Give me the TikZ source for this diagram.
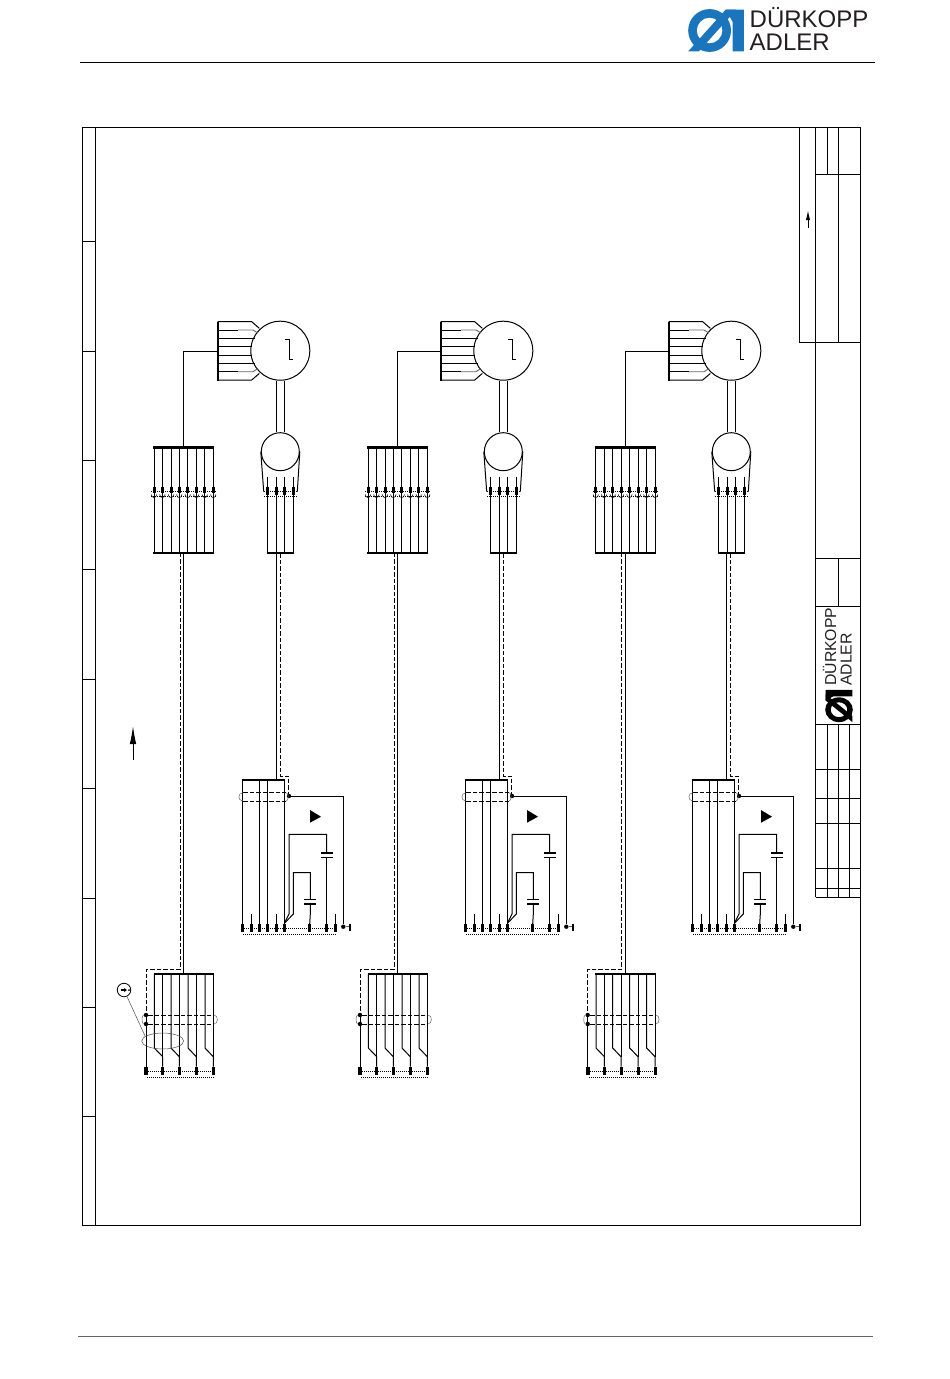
\documentclass[tikz,border=0pt]{standalone}
\usepackage{fontspec}
\setmainfont{Liberation Sans}
\usetikzlibrary{shapes.geometric,arrows.meta}
\definecolor{dablue}{HTML}{1B75BC}
\definecolor{dadark}{HTML}{231F20}
\tikzset{
 frameline/.style={line width=1pt},
 wire/.style={line width=1pt},
 busbar/.style={line width=2.1pt},
 pinbar/.style={line width=3pt},
 shield/.style={line width=1pt,dash pattern=on 4.5pt off 2pt},
 screen/.style={line width=.9pt,dash pattern=on 1pt off 1pt},
 capcurve/.style={line width=.5pt,black!60},
 junction/.style={circle,fill,inner sep=0pt,minimum size=4.4pt},
 logotext/.style={inner sep=0pt,text=dadark},
}
\newcommand{\dacrest}[1]{
\fill[#1,even odd rule] (-6,0) circle (20) (-6,0) circle (12);
\fill[#1] (9,-19.5)--(19,-19.5)--(-16,19.5)--(-26,19.5)--cycle;
\fill[#1] (9,-19.5)--(26,-19.5)--(26,19.5)--(15.6,19.5)--(15.6,-8)--cycle;
}
\begin{document}
\begin{tikzpicture}[x=1pt,y=-1pt]
\useasboundingbox (0,0) rectangle (950,1379);
% header and footer
\begin{scope}[shift={(716,30.5)},scale=1.07]
\dacrest{dablue}
\end{scope}
\node[logotext,anchor=base west,font=\fontsize{24}{24}\selectfont] (headone) at (749.5,27.5) {DÜRKOPP};
\node[logotext,anchor=base west,font=\fontsize{24}{24}\selectfont] (headtwo) at (749.5,50.5) {ADLER};
\draw[wire] (80,62)--(875,62);
\draw[line width=.8pt,black!60] (78,1336.5)--(873,1336.5);
% frame
\draw[frameline] (82.5,127) rectangle (860.5,1225);
\draw[frameline] (95,127)--(95,1225);
\foreach \y in {241,351,460,569,679,788,898,1007,1116}
 \draw[frameline] (82.5,\y)--(95,\y);
% table top right
\draw[frameline] (799.5,127)--(799.5,342.5)--(860.5,342.5);
\draw[frameline] (815.5,127)--(815.5,897);
\draw[frameline] (827.5,127)--(827.5,174);
\draw[frameline] (838.5,127)--(838.5,342.5);
\draw[frameline] (815.5,174)--(860.5,174);
\draw[wire,-{Latex[length=10pt,width=4.2pt]}] (808,228)--(808,210);
% title block
\draw[frameline] (815.5,558.5)--(860.5,558.5);
\draw[frameline] (838.5,558.5)--(838.5,606);
\draw[frameline] (815.5,606)--(860.5,606);
\foreach \y in {724,769.5,798.5,823.5,868.5,888.5,897}
 \draw[frameline] (815.5,\y)--(860.5,\y);
\foreach \x in {827.5,838.5,849.5}
 \draw[frameline] (\x,724)--(\x,897);
\begin{scope}[shift={(839,706)},rotate=90,xscale=.62,yscale=.69]
\dacrest{black}
\end{scope}
\node[logotext,rotate=90,anchor=base west,font=\fontsize{15.8}{15.8}\selectfont] (titleone) at (836,686) {DÜRKOPP};
\node[logotext,rotate=90,anchor=base west,font=\fontsize{15.8}{15.8}\selectfont] (titletwo) at (851.5,686) {ADLER};
% arrow left
\draw[wire,-{Latex[length=18pt,width=6.5pt]}] (133,760)--(133,726);
% motors
\foreach \dx in {0,223,451}{
\begin{scope}[shift={(\dx,0)}]
\node[circle,draw,line width=1pt,minimum size=59pt,inner sep=0pt] (motor) at (280.3,350.7) {};
\node[circle,draw,line width=1pt,minimum size=38pt,inner sep=0pt] (plug) at (280.3,451.7) {};
\draw[wire] (285,339.3)--(289.3,339.3)--(289.3,359.3)--(293.3,359.3);
\draw[wire] ([xshift=-4pt]motor.south)--([xshift=-4pt]plug.north);
\draw[wire] ([xshift=4pt]motor.south)--([xshift=4pt]plug.north);
\draw[wire] (plug.west)--(263.7,491.7);
\draw[wire] (plug.east)--(297.3,491.7);
\foreach \x in {267.7,276.3,284.7,293.3}{
 \draw[wire] (\x,476.7)--(\x,553.3);
 \draw[pinbar] (\x,486.7)--(\x,495);
}
\draw[screen] (264,491.7)--(297,491.7);
\draw[screen] (264,496)--(297,496);
\draw[busbar] (267,553.3)--(294,553.3);
% motor connector
\draw[busbar] (217.7,321.5)--(217.7,380.5);
\draw[wire] (217.7,321.7)--(251.7,321.7)--(259.3,328.3);
\draw[wire] (217.7,330)--(238,330);
\draw[capcurve,line width=.9pt] (238,330)--(253,330)--(258,333);
\draw[wire] (217.7,338.3)--(255,338.3);
\draw[wire] (217.7,346.7)--(251.5,346.7);
\draw[wire] (217.7,355)--(251.5,355);
\draw[wire] (217.7,363.3)--(255,363.3);
\draw[wire] (217.7,371.7)--(238,371.7);
\draw[capcurve,line width=.9pt] (238,371.7)--(253,371.7)--(258,368.5);
\draw[wire] (217.7,380)--(251.7,380)--(259.3,373.5);
\end{scope}
}
% left plug blocks and cables
\foreach \dx/\reach in {0/217.7,214/226.4,441.7/226.4}{
\begin{scope}[shift={(\dx,0)}]
\draw[wire] (183.3,447.5)--(183.3,351)--(\reach,351);
\foreach \x in {154,162.4,171,179.3,187.7,196.3,204.7,213.3}{
 \draw[wire] (\x,447.5)--(\x,552.7);
 \draw[pinbar] (\x,486.7)--(\x,493.3);
 \draw[line width=.6pt] (\x-2.7,494.5) .. controls (\x-2.7,498.5) and (\x+2.7,498.5) .. (\x+2.7,494.5);
}
\draw[busbar] (153.2,447.5)--(214.2,447.5);
\draw[busbar] (153.2,552.7)--(214.2,552.7);
\draw[screen] (151,491.7)--(216,491.7);
\draw[screen] (151,496)--(216,496);
\draw[wire] (183.3,552.7)--(183.3,974);
\draw[shield] (180,552.7)--(180,969.3)--(146,969.3)--(146,1015);
% lower block
\draw[busbar] (153.5,974)--(214.2,974);
\foreach \x/\y in {154.3/162.7,171/179.3,188/196.3,205/213.3}{
 \draw[wire] (\x,974)--(\x,1048)--(\y,1056.7)--(\y,1066.7);
 \draw[wire] (\y,974)--(\y,1056.7);
}
\node[junction] (topdot) at (146,1015) {};
\node[junction] (lowdot) at (146,1024) {};
\draw[wire] (topdot)--(146,1066.7);
\draw[shield] (topdot)--(214,1015);
\draw[shield] (lowdot)--(214,1024);
\draw[capcurve] (214,1015) .. controls (218.5,1015) and (218.5,1024) .. (214,1024);
\draw[capcurve] (topdot) .. controls (141.5,1015) and (141.5,1024) .. (lowdot);
\foreach \x in {162.7,179.3,196.3,213.3}
 \draw[pinbar] (\x,1066.7)--(\x,1075);
\draw[line width=3.8pt] (146,1066.7)--(146,1075);
\draw[screen] (146,1071.7)--(213.3,1071.7);
\draw[screen] (147,1077.5)--(213.3,1077.5);
\end{scope}
}
% controller blocks
\foreach \dx/\tri in {0/0,223/217,450/451}{
\begin{scope}[shift={(\dx,0)}]
\draw[wire] (276.4,553.3)--(276.4,780);
\draw[shield] (280,553.3)--(280,776)--(288.6,776)--(288.6,796);
\draw[busbar] (241.6,780)--(285.4,780);
\foreach \x in {242.3,259.3,267.7,284.5}
 \draw[wire] (\x,780)--(\x,924);
\foreach \x in {251,276.3,335.3}
 \draw[wire] (\x,914)--(\x,924);
\foreach \x in {242.3,251,259.3,267.7,276.3,284.5,309.7,326.3,335.3}
 \draw[pinbar] (\x,924)--(\x,931.7);
\draw[screen] (242.3,928.3)--(335.3,928.3);
\draw[screen] (243,934)--(335.3,934);
% shield loop
\node[junction] (shieldpt) at (289,796) {};
\draw[shield] (243,792.7)--(286,792.7);
\draw[shield] (243,801)--(286,801);
\draw[capcurve] (243,792.7) .. controls (237.5,792.7) and (237.5,801) .. (243,801);
\draw[capcurve] (286,792.7) .. controls (289,792.7) and (289,801) .. (286,801);
\node[junction] (earthpt) at (343.3,926.7) {};
\draw[wire] (shieldpt)--(343.3,796)--(earthpt);
\draw[capcurve] (earthpt)--(350,926.7);
\draw[line width=1.6pt] (350,923.5)--(350,931);
\fill (310+\tri-\dx,810)--(321+\tri-\dx,816.7)--(310+\tri-\dx,822.7)--cycle;
% capacitors
\draw[wire] (284.4,923.3)--(289,914)--(289,834.3)--(326.7,834.3)--(326.7,853.3);
\draw[wire] (326.7,857.3)--(326.7,924);
\draw[busbar] (321,853.3)--(332.7,853.3);
\draw[wire] (321,857.3)--(332.7,857.3);
\draw[wire] (284.4,923.3)--(293.3,914)--(293.3,872.7)--(310.3,872.7)--(310.3,899.3);
\draw[wire] (304.3,899.3)--(315.7,899.3);
\draw[busbar] (304.3,904)--(315.7,904);
\draw[wire] (310.3,904)--(310.3,914)--(309.7,924);
\end{scope}
}
% marking on first block
\node[ellipse,draw,line width=.5pt,black!70,minimum width=42pt,minimum height=16pt,inner sep=0pt] (cableloop) at (162.7,1041) {};
\node[circle,draw,line width=.8pt,minimum size=13.5pt,inner sep=0pt] (symbol) at (124,990) {};
\draw[line width=.5pt,black!70] (symbol)--(cableloop.165);
\draw[line width=2.4pt] (120.5,990)--(124,990);
\fill (124,988)--(127,990)--(124,992)--cycle;
\fill (129,990) circle (1);
\end{tikzpicture}
\end{document}
